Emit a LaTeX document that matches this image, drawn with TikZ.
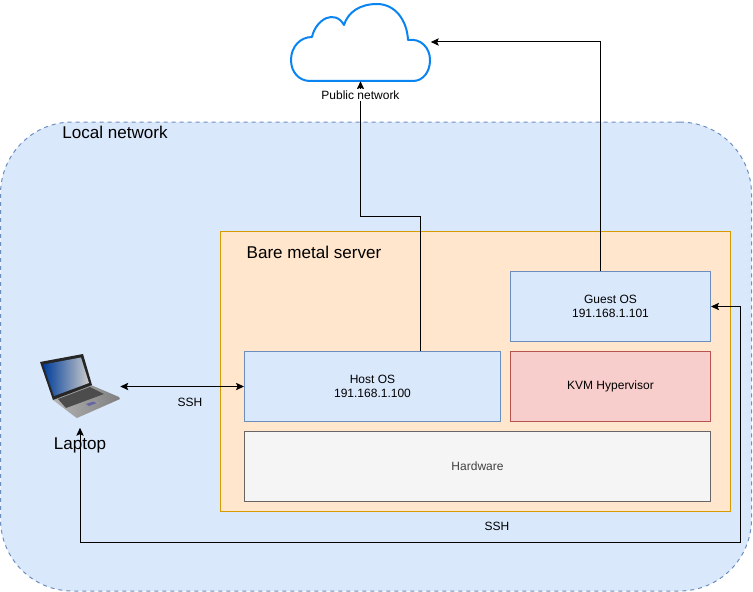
\documentclass[tikz,border=0pt]{standalone}
\usepackage{xcolor}
\usepackage{fontspec}
\setmainfont{Liberation Sans}
\usetikzlibrary{arrows.meta}
\definecolor{localfill}{HTML}{DAE8FC}
\definecolor{localline}{HTML}{6C8EBF}
\definecolor{serverfill}{HTML}{FFE6CC}
\definecolor{serverline}{HTML}{D79B00}
\definecolor{kvmfill}{HTML}{F8CECC}
\definecolor{kvmline}{HTML}{B85450}
\definecolor{hwfill}{HTML}{F5F5F5}
\definecolor{hwline}{HTML}{666666}
\definecolor{cloudline}{HTML}{0A84F0}
\tikzset{
 box/.style={draw, inner sep=0pt, align=center, font=\fontsize{9}{10.5}\selectfont, line width=.75pt},
 small/.style={inner sep=1pt, font=\fontsize{9}{10.5}\selectfont},
 big/.style={inner sep=0pt, font=\fontsize{12.8}{14}\selectfont},
 link/.style={line width=.75pt, >={Stealth[length=6pt, width=5.5pt, inset=1.2pt]}},
}
\begin{document}
\begin{tikzpicture}[x=.75pt, y=-.75pt]
 \useasboundingbox (0,0) rectangle (753,592);

 % regions
 \node[box, dashed, draw=localline, fill=localfill, rounded corners=54pt, minimum width=563.25pt, minimum height=351.75pt] (local) at (376,356.5) {};
 \node[box, draw=serverline, fill=serverfill, minimum width=382.5pt, minimum height=210pt] (server) at (475.5,371.6) {};

 \node[big] (localname) at (115,132.5) {Local network};
 \node[big] (servername) at (314,252.5) {Bare metal server};

 % boxes in the server
 \node[box, draw=localline, fill=localfill, minimum width=192pt, minimum height=52.5pt] (host) at (372.5,386.5) {Host OS\\191.168.1.100};
 \node[box, draw=localline, fill=localfill, minimum width=150pt, minimum height=52.5pt] (guest) at (610.5,306.5) {Guest OS\\191.168.1.101};
 \node[box, draw=kvmline, fill=kvmfill, minimum width=150pt, minimum height=52.5pt] (kvm) at (610.5,386.5) {KVM Hypervisor};
 \node[box, draw=hwline, fill=hwfill, text=black!75, minimum width=349.5pt, minimum height=52.5pt] (hardware) at (477.5,466.5) {Hardware};

 % cloud
 \node[minimum width=105pt, minimum height=58.5pt, inner sep=0pt] (cloud) at (360.5,42) {};
 \draw[cloudline, line width=1.5pt, fill=white, line join=round]
  (310,81) .. controls (299,81) and (291,72) .. (291,60)
  .. controls (291,47) and (300,37) .. (312,37)
  .. controls (316,19) and (335,9) .. (344,25)
  .. controls (348,12) and (360,4) .. (377,4)
  .. controls (395,4) and (407,20) .. (408,40)
  .. controls (421,38) and (430,48) .. (430,60)
  .. controls (430,72) and (423,81) .. (413,81) -- cycle;

 % laptop
 \node[minimum width=60pt, minimum height=61.5pt, inner sep=0pt] (laptop) at (80,386.5) {};
 \shade[left color=black!30, right color=black!50] (53,400) -- (91,385) -- (119,397) -- (120,399) -- (77,418) -- (74,416) -- cycle;
 \fill[black!70] (58,399) -- (90,387) -- (104,394) -- (66,408) -- cycle;
 \fill[black!85] (40,362) -- (83,354) -- (92,385) -- (53,400) -- cycle;
 \shade[shading angle=60, left color=blue!60!cyan!60!black, right color=black!20] (43,364.5) -- (81,357.5) -- (89,383) -- (54,396) -- cycle;
 \fill[black!40] (84,404) -- (94,400) -- (100,403) -- (89,407) -- cycle;
 \fill[blue!40!black!60] (86,404) -- (93,401.5) -- (97,403) -- (89,406) -- cycle;
 \node[big] (laptopname) at (80,445) {Laptop};

 % connectors
 \coordinate (hostout) at (420.5,351);
 \coordinate (guestout) at (600.5,271);
 \coordinate (hostbend) at (360.5,216);
 \coordinate (sshleft) at (80,542);
 \coordinate (sshright) at (740,542);

 \draw[link, ->] (hostout) |- (hostbend) -- (cloud.south);
 \draw[link, ->] (guestout) |- (cloud.east);
 \draw[link, <->] (laptop.east) -- (host.west);
 \draw[link, <->] (laptop.south) -- (sshleft) -- (sshright) |- (guest.east);

 \node[small, fill=white] (publicname) at (360.5,95) {Public network};
 \node[small] (sshone) at (190,402.5) {SSH};
 \node[small] (sshtwo) at (497,526.5) {SSH};
\end{tikzpicture}
\end{document}
